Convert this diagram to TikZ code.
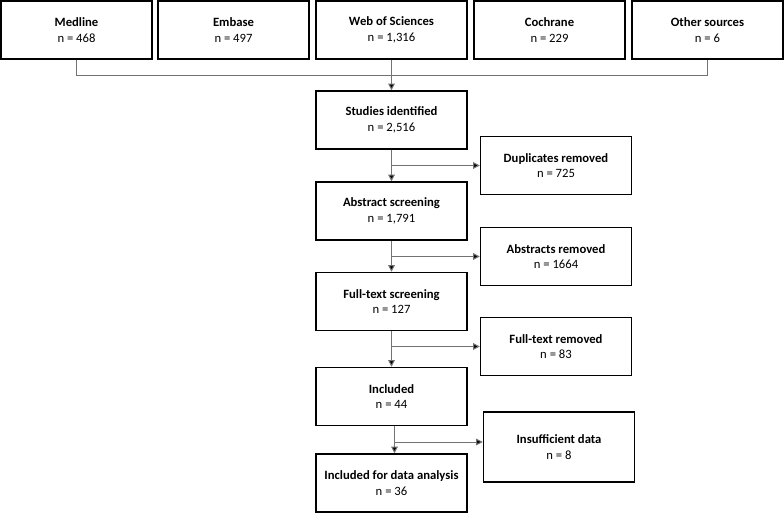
\documentclass[tikz,border=0pt]{standalone}
\usepackage{fontspec}
\setmainfont{Carlito}
\usetikzlibrary{arrows.meta}
\begin{document}
\begin{tikzpicture}
  [x=0.75pt,y=-0.75pt,
   box/.style={draw=black,line width=1.1pt,fill=white,align=center,
     minimum width=113.25pt,minimum height=43.5pt,inner sep=1pt,
     font=\fontsize{9.5}{11.5}\selectfont},
   link/.style={draw=black!55,line width=0.75pt},
   arr/.style={link,-{Triangle[length=5pt,width=5pt,fill=black]}}]
    \useasboundingbox (0,0) rectangle (784,513);

    \node (medline)  [box] at (76.5,30)  {\textbf{Medline}\\n = 468};
    \node (embase)   [box] at (233.5,30) {\textbf{Embase}\\n = 497};
    \node (wos)      [box] at (391.5,30) {\textbf{Web of Sciences}\\n = 1,316};
    \node (cochrane) [box] at (549.5,30) {\textbf{Cochrane}\\n = 229};
    \node (other)    [box] at (707.5,30) {\textbf{Other sources}\\n = 6};

    \node (studies)  [box] at (391.5,120) {\textbf{Studies identified}\\n = 2,516};
    \node (abstract) [box] at (391.5,211) {\textbf{Abstract screening}\\n = 1,791};
    \node (fulltext) [box] at (391.5,301.5) {\textbf{Full-text screening}\\n = 127};
    \node (included) [box] at (391.5,396.5) {\textbf{Included}\\n = 44};
    \node (analysis) [box] at (391.5,483) {\textbf{Included for data analysis}\\n = 36};

    \node (dup)    [box] at (556,165.5) {\textbf{Duplicates removed}\\n = 725};
    \node (absrem) [box] at (556,256.5) {\textbf{Abstracts removed}\\n = 1664};
    \node (ftrem)  [box] at (556,346.5) {\textbf{Full-text removed}\\n = 83};
    \node (insuf)  [box,minimum height=52.5pt] at (559,447) {\textbf{Insufficient data}\\n = 8};

    \draw[link] (medline.south) -- ++(0,16) -| (other.south);

    \foreach \from/\to in {wos/studies,studies/abstract,abstract/fulltext,fulltext/included}
      \draw[arr] (\from.south) -- (\to.north);
    \draw[arr] ([xshift=2.25pt]included.south) -- ([xshift=2.25pt]analysis.north);

    \foreach \from/\to in {studies/dup,abstract/absrem,fulltext/ftrem}
      \draw[arr] (\from.south |- \to.west) -- (\to.west);

    \coordinate (split) at (394.5,442);
    \draw[arr] (split) -- (split -| insuf.west);
\end{tikzpicture}
\end{document}
